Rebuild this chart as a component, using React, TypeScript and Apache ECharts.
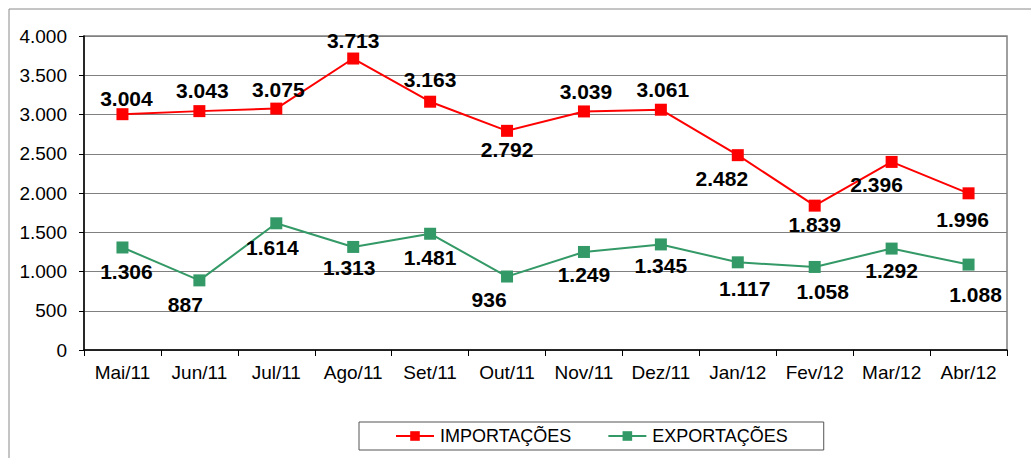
import React, { useEffect, useRef } from "react";
import * as echarts from "echarts";

const categories = ["Mai/11", "Jun/11", "Jul/11", "Ago/11", "Set/11", "Out/11", "Nov/11", "Dez/11", "Jan/12", "Fev/12", "Mar/12", "Abr/12"];
const importacoes = [3004, 3043, 3075, 3713, 3163, 2792, 3039, 3061, 2482, 1839, 2396, 1996];
const exportacoes = [1306, 887, 1614, 1313, 1481, 936, 1249, 1345, 1117, 1058, 1292, 1088];
// label offsets (dx, dy) relative to the point, as placed in the reference
const importOffsets: [number, number][] = [[4, -16], [3, -21], [2, -19], [0, -18], [0, -22], [0, 19], [2, -20], [2, -20], [-16, 23], [0, 19], [-15, 23], [-6, 26]];
const exportOffsets: [number, number][] = [[4, 24], [-14, 24], [-4, 24], [-4, 21], [0, 24], [-18, 23], [0, 23], [0, 21], [7, 26], [8, 25], [0, 22], [7, 30]];

const FONT = "'Liberation Sans', Arial, sans-serif";
const fmt = (v: number) => {
  const s = String(Math.round(v));
  return s.replace(/\B(?=(\d{3})+(?!\d))/g, ".");
};

function buildData(values: number[], offsets: [number, number][]) {
  return values.map((v, i) => ({
    value: v,
    label: {
      show: true,
      position: "inside",
      offset: offsets[i],
      formatter: () => fmt(v),
      fontSize: 21,
      fontWeight: "bold",
      color: "#000",
      fontFamily: FONT,
    },
  }));
}

export default function App() {
  const ref = useRef<HTMLDivElement>(null);
  useEffect(() => {
    if (!ref.current) return;
    const chart = echarts.init(ref.current, null, { renderer: "svg" });
    chart.setOption({
      animation: false,
      backgroundColor: "#fff",
      textStyle: { fontFamily: FONT },
      graphic: [
        {
          type: "rect",
          shape: { x: 9, y: 9, width: 1200, height: 600 },
          style: { fill: "none", stroke: "#8a8a8a", lineWidth: 1 },
          silent: true,
          z: -1,
        },
      ],
      grid: {
        left: 84,
        right: 24,
        top: 36,
        bottom: 108,
        show: true,
        borderColor: "#808080",
        borderWidth: 1.5,
        backgroundColor: "transparent",
      },
      legend: {
        left: 359,
        top: 422,
        padding: [5, 36],
        itemGap: 36,
        itemWidth: 38,
        itemHeight: 12,
        borderColor: "#555",
        borderWidth: 1,
        textStyle: { fontSize: 18, color: "#000", fontFamily: FONT, padding: [0, 0, 0, 1] },
        data: ["IMPORTAÇÕES", "EXPORTAÇÕES"],
      },
      xAxis: {
        type: "category",
        data: categories,
        boundaryGap: true,
        axisLine: { show: true, lineStyle: { color: "#000", width: 1.5 } },
        axisTick: { show: true, length: 6, lineStyle: { color: "#000" } },
        axisLabel: { fontSize: 19, color: "#000", margin: 13, fontFamily: FONT, interval: 0 },
        splitLine: { show: false },
      },
      yAxis: {
        type: "value",
        min: 0,
        max: 4000,
        interval: 500,
        axisLine: { show: true, lineStyle: { color: "#000", width: 1.5 } },
        axisTick: { show: true, length: 5, lineStyle: { color: "#000" } },
        axisLabel: { fontSize: 19, color: "#000", margin: 17, fontFamily: FONT, formatter: (v: number) => fmt(v) },
        splitLine: { show: true, lineStyle: { color: "#808080", width: 1 } },
      },
      series: [
        {
          name: "IMPORTAÇÕES",
          type: "line",
          data: buildData(importacoes, importOffsets),
          symbol: "rect",
          symbolSize: 12,
          itemStyle: { color: "#ff0000" },
          lineStyle: { color: "#ff0000", width: 2 },
          z: 3,
        },
        {
          name: "EXPORTAÇÕES",
          type: "line",
          data: buildData(exportacoes, exportOffsets),
          symbol: "rect",
          symbolSize: 12,
          itemStyle: { color: "#339966" },
          lineStyle: { color: "#339966", width: 2 },
          z: 3,
        },
      ],
    });
    return () => chart.dispose();
  }, []);
  return (
    <div
      ref={ref}
      style={{ position: "fixed", left: 0, top: 0, width: 1031, height: 458 }}
    />
  );
}
